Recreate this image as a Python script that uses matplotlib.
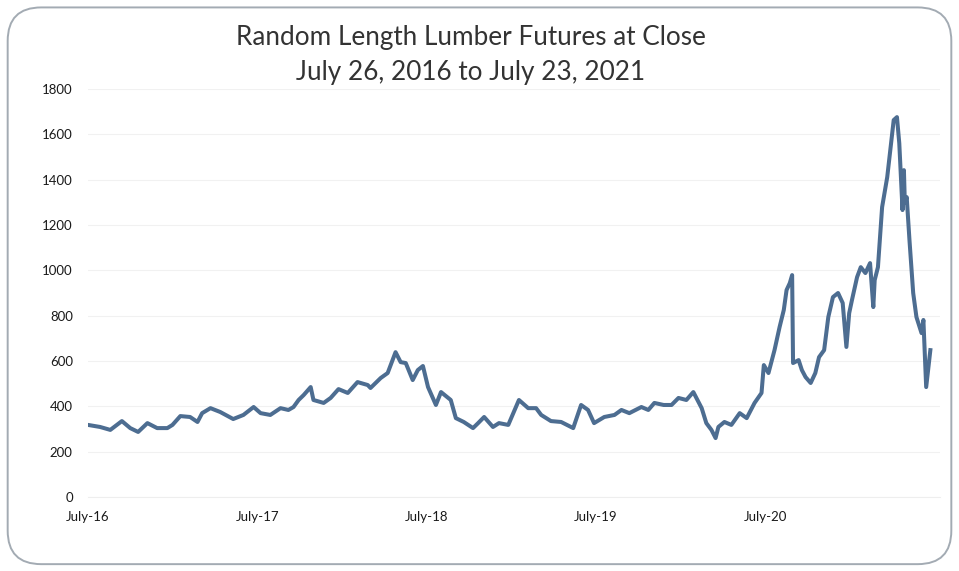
import numpy as np
import pandas as pd
import matplotlib.pyplot as plt
import matplotlib.dates as mdates
from matplotlib.patches import FancyBboxPatch

# -----------------------------
# DATA
# -----------------------------
dates = [
    "2016-07-26", "2016-08-21", "2016-09-12", "2016-10-07", "2016-10-25", "2016-11-11",
    "2016-12-01", "2016-12-22", "2017-01-13", "2017-01-24", "2017-02-10", "2017-03-03",
    "2017-03-19", "2017-03-29", "2017-04-16", "2017-05-07", "2017-06-04", "2017-06-26",
    "2017-07-18", "2017-08-02", "2017-08-23", "2017-09-14", "2017-10-01", "2017-10-12",
    "2017-10-23", "2017-11-03", "2017-11-18", "2017-11-24", "2017-12-16", "2017-12-31",
    "2018-01-17", "2018-02-06", "2018-02-27", "2018-03-21", "2018-03-27", "2018-04-18",
    "2018-05-03", "2018-05-20", "2018-05-31", "2018-06-11", "2018-06-26", "2018-07-07",
    "2018-07-18", "2018-07-29", "2018-08-15", "2018-08-26", "2018-09-16", "2018-09-27",
    "2018-10-14", "2018-11-03", "2018-11-14", "2018-11-27", "2018-12-16", "2018-12-29",
    "2019-01-18", "2019-02-10", "2019-03-02", "2019-03-19", "2019-03-30", "2019-04-20",
    "2019-05-12", "2019-06-07", "2019-06-24", "2019-07-09", "2019-07-22", "2019-08-13",
    "2019-09-04", "2019-09-19", "2019-10-06", "2019-11-01", "2019-11-16", "2019-11-29",
    "2019-12-19", "2020-01-05", "2020-01-20", "2020-02-06", "2020-02-21", "2020-03-10",
    "2020-03-20", "2020-03-31", "2020-04-09", "2020-04-15", "2020-04-28", "2020-05-13",
    "2020-05-31", "2020-06-15", "2020-07-02", "2020-07-17", "2020-07-22", "2020-08-01",
    "2020-08-14", "2020-08-25", "2020-09-03", "2020-09-09", "2020-09-16", "2020-09-21",
    "2020-09-23", "2020-10-05", "2020-10-12", "2020-10-20", "2020-10-31", "2020-11-10",
    "2020-11-18", "2020-11-29", "2020-12-08", "2020-12-18", "2020-12-29", "2021-01-08",
    "2021-01-16", "2021-01-22", "2021-01-28", "2021-02-08", "2021-02-16", "2021-02-26",
    "2021-03-08", "2021-03-15", "2021-03-18", "2021-03-25", "2021-04-03", "2021-04-14",
    "2021-04-28", "2021-05-05", "2021-05-10", "2021-05-17", "2021-05-20", "2021-05-22",
    "2021-05-26", "2021-06-01", "2021-06-09", "2021-06-16", "2021-06-27", "2021-07-01",
    "2021-07-07", "2021-07-16", "2021-07-23",
]
prices = [
    318, 309, 296, 335, 304, 287,
    326, 304, 304, 318, 357, 353,
    331, 370, 392, 375, 344, 362,
    397, 370, 362, 392, 384, 397,
    428, 450, 485, 428, 415, 437,
    476, 459, 507, 494, 481, 525,
    547, 639, 595, 591, 516, 560,
    578, 485, 406, 463, 428, 348,
    331, 304, 326, 353, 309, 326,
    318, 428, 392, 392, 362, 335,
    331, 304, 406, 384, 326, 353,
    362, 384, 370, 397, 384, 415,
    406, 406, 437, 428, 463, 392,
    326, 296, 260, 309, 331, 318,
    370, 348, 415, 459, 582, 547,
    648, 750, 825, 913, 944, 979,
    591, 604, 560, 529, 503, 547,
    617, 648, 794, 882, 900, 856,
    662, 811, 869, 970, 1014, 988,
    1032, 838, 957, 1014, 1279, 1411,
    1663, 1676, 1561, 1266, 1442, 1297,
    1323, 1133, 900, 794, 723, 781,
    485, 648,
]

yticks = [0, 200, 400, 600, 800, 1000, 1200, 1400, 1600, 1800]
xtick_dates = ["2016-07-26", "2017-07-26", "2018-07-26", "2019-07-26", "2020-07-26"]
xtick_labels = ["July-16", "July-17", "July-18", "July-19", "July-20"]

title = "Random Length Lumber Futures at Close\nJuly 26, 2016 to July 23, 2021"

# -----------------------------
# PLOT
# -----------------------------
plt.rcParams['font.family'] = ['Lato', 'DejaVu Sans']

x = pd.to_datetime(dates[:len(prices)])

fig = plt.figure(figsize=(9.59, 5.71), dpi=100)

# rounded chart border (behind the axes)
border = FancyBboxPatch((0.008, 0.012), 0.984, 0.975,
                        boxstyle="round,pad=0,rounding_size=0.035",
                        transform=fig.transFigure, facecolor='white',
                        edgecolor='#a3abb3', linewidth=1.4,
                        mutation_aspect=959/571, zorder=-10)
fig.patches.append(border)

ax = fig.add_axes([0.0918, 0.1296, 0.888, 0.7145], zorder=5)
ax.plot(x, prices, color='#4d6d91', linewidth=2.9, solid_joinstyle='round')

ax.set_ylim(0, 1800)
ax.set_yticks(yticks)
ax.set_xlim(pd.Timestamp("2016-07-26"), pd.Timestamp("2021-08-05"))
ax.set_xticks(pd.to_datetime(xtick_dates))
ax.set_xticklabels(xtick_labels)

ax.grid(axis='y', color='#f1f1f1', linewidth=0.8)
ax.set_axisbelow(True)
for s in ['top', 'right', 'left']:
    ax.spines[s].set_visible(False)
ax.spines['bottom'].set_color('#eeeeee')
ax.tick_params(axis='both', length=0, labelsize=9.5, colors='#1a1a1a')
ax.tick_params(axis='y', pad=11)
ax.tick_params(axis='x', pad=10)
ax.patch.set_alpha(0)

fig.text(0.491, 0.903, title, ha='center', va='center', fontsize=18.8,
         color='#333333', linespacing=1.5, zorder=6)

fig.savefig("out.png", dpi=100)
